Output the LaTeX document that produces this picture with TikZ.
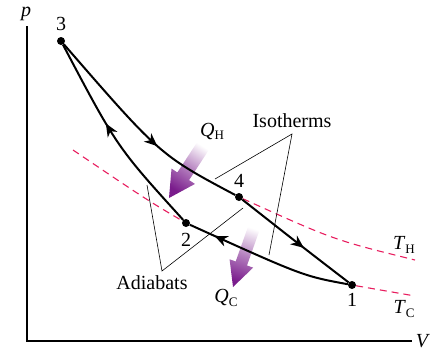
\documentclass[tikz,border=0pt]{standalone}
\usepackage{fontspec}
\setmainfont{Liberation Serif}
\usetikzlibrary{arrows.meta,decorations.markings,calc}
\definecolor{heat}{RGB}{122,28,140}
\definecolor{isoc}{RGB}{232,30,95}
\newcommand{\qlbl}[2]{\textit{#1}\raisebox{-0.35ex}{\fontsize{13}{13}\selectfont #2}}
\begin{document}
\begin{tikzpicture}[x=1pt,y=-1pt,
  every node/.style={font=\fontsize{20}{22}\selectfont, inner sep=0pt},
  dot/.style={circle, fill=black, minimum size=8pt, inner sep=0pt},
  proc/.style={line width=2pt},
  mid/.style={postaction={decorate}, decoration={markings, mark=at position #1 with {\arrow{Stealth[length=13pt,width=11pt,inset=4pt]}}}},
  dashiso/.style={isoc, line width=1.1pt, dash pattern=on 7pt off 5pt},
  leader/.style={line width=0.6pt},
  axisline/.style={line width=1.2pt},
  heatgrad/.style={top color=white, bottom color=heat, middle color=heat!55, shading angle=#1}]
\useasboundingbox (0,0) rectangle (441,351);

% axes
\coordinate (O) at (27,341);
\coordinate (ytop) at (27,26);
\coordinate (xend) at (412,341);
\draw[axisline] (ytop) -- (O) -- (xend);
\node (lp) at (26,14) {\textit{p}};
\node (lV) at (423,341) {\textit{V}};

% state points
\node[dot] (n3) at (61,41) {};
\node[dot] (n4) at (239,197) {};
\node[dot] (n2) at (186,223) {};
\node[dot] (n1) at (352,285) {};

% dashed isotherm continuations
\coordinate (tcL) at (73,150);
\coordinate (tcR) at (415,296);
\coordinate (thR) at (415,260);
\draw[dashiso] (tcL) .. controls (147,200) .. (n2);
\draw[dashiso] (n1) .. controls (385,291) .. (tcR);
\draw[dashiso] (n4) .. controls (334,240) .. (thR);

% heat arrows
\coordinate (qhS) at (205,143);
\coordinate (qhT) at (169,198);
\coordinate (qhB) at ($(qhT)!26pt!(qhS)$);
\shade[heatgrad=-33]
  ($(qhS)!7pt!90:(qhT)$) -- ($(qhB)!7pt!90:(qhT)$) -- ($(qhB)!14pt!90:(qhT)$) --
  (qhT) --
  ($(qhB)!14pt!-90:(qhT)$) -- ($(qhB)!7pt!-90:(qhT)$) -- ($(qhS)!7pt!-90:(qhT)$) -- cycle;

\coordinate (qcS) at (255,225);
\coordinate (qcT) at (233,287);
\coordinate (qcB) at ($(qcT)!25pt!(qcS)$);
\shade[heatgrad=-19]
  ($(qcS)!6pt!90:(qcT)$) -- ($(qcB)!6pt!90:(qcT)$) -- ($(qcB)!12.5pt!90:(qcT)$) --
  (qcT) --
  ($(qcB)!12.5pt!-90:(qcT)$) -- ($(qcB)!6pt!-90:(qcT)$) -- ($(qcS)!6pt!-90:(qcT)$) -- cycle;

% leader lines
\node (liso) at (292,121) {Isotherms};
\coordinate (isoA) at (292,134);
\coordinate (isoE1) at (215,179);
\coordinate (isoE2) at (269,255);
\draw[leader] (isoE1) -- (isoA) -- (isoE2);
\node (ladi) at (152,283) {Adiabats};
\coordinate (adiA) at (162,271);
\coordinate (adiE1) at (147,185);
\coordinate (adiE2) at (243,208);
\draw[leader] (adiE1) -- (adiA) -- (adiE2);

% process curves
\draw[proc, mid=0.6] (n3) .. controls (160,155) .. (n4);
\draw[proc, mid=0.58] (n4) .. controls (300,245) .. (n1);
\draw[proc, mid=0.84] (n1) .. controls (303,276) .. (n2);
\draw[proc, mid=0.58] (n2) .. controls (117,147) .. (n3);

% labels
\node (l3) at (61,24) {3};
\node (l4) at (239,181) {4};
\node (l2) at (186,240) {2};
\node (l1) at (352,300) {1};
\node (lth) at (404,245) {\qlbl{T}{H}};
\node (ltc) at (404,309) {\qlbl{T}{C}};
\node (lqh) at (212,131) {\qlbl{Q}{H}};
\node (lqc) at (226,298) {\qlbl{Q}{C}};
\end{tikzpicture}
\end{document}
